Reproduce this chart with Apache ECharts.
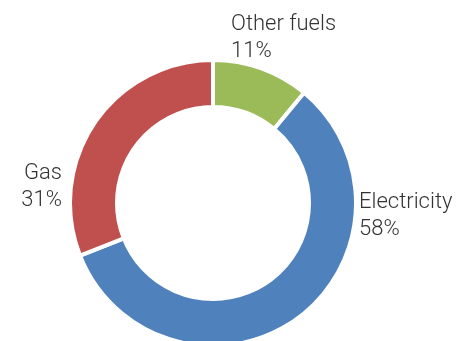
<!DOCTYPE html>
<html>
<head>
<meta charset="utf-8">
<style>
  html, body { margin: 0; padding: 0; background: #ffffff; }
  #chart { width: 470px; height: 341px; }
</style>
<script src="https://cdn.jsdelivr.net/npm/echarts@6/dist/echarts.min.js"></script>
</head>
<body>
<div id="chart"></div>
<script>
// Share of energy use by fuel type
const categories = ['Other fuels', 'Electricity', 'Gas'];
const shares = [11, 58, 31];
const colors = ['#9BBB59', '#4F81BD', '#C0504D'];

// Label anchor for each slice: [x, y, horizontal alignment]
const labelSpots = [
  [231, 38, 'left'],
  [359, 216, 'left'],
  [62, 187, 'right']
];

const chart = echarts.init(document.getElementById('chart'), null, { renderer: 'canvas' });

chart.setOption({
  animation: false,
  backgroundColor: '#ffffff',
  series: [{
    type: 'pie',
    center: [213, 203],
    radius: [96, 143],
    startAngle: 90,
    clockwise: true,
    avoidLabelOverlap: false,
    itemStyle: { borderColor: '#ffffff', borderWidth: 4 },
    label: {
      show: true,
      position: 'outside',
      formatter: p => p.name + '\n' + p.value + '%',
      fontFamily: 'Roboto',
      fontWeight: 300,
      fontSize: 22,
      lineHeight: 27,
      color: '#333333'
    },
    labelLine: { show: false },
    labelLayout: p => {
      const s = labelSpots[p.dataIndex];
      return { x: s[0], y: s[1], align: s[2], verticalAlign: 'middle' };
    },
    emphasis: { disabled: true },
    data: categories.map((name, i) => ({
      name,
      value: shares[i],
      itemStyle: { color: colors[i] },
      label: { align: labelSpots[i][2] }
    }))
  }]
});
</script>
</body>
</html>
